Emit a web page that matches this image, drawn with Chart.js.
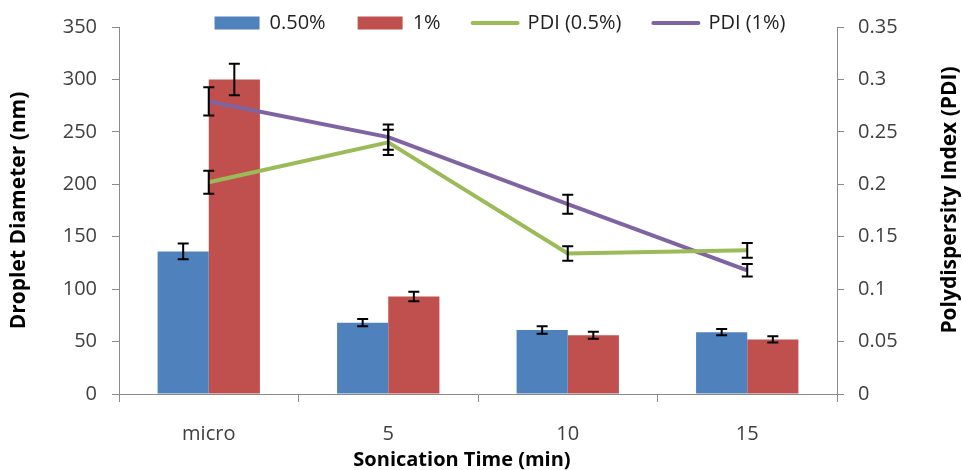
<!DOCTYPE html>
<html>
<head>
<meta charset="utf-8">
<script src="https://cdn.jsdelivr.net/npm/chart.js@4.4.1/dist/chart.umd.min.js"></script>
<style>
    html, body { margin: 0; padding: 0; background: #fff; }
    #wrap { width: 962px; height: 470px; }
</style>
</head>
<body>
<div id="wrap"><canvas id="chart" width="962" height="470"></canvas></div>
<script>
// Droplet size (bars, left axis) and PDI (lines, right axis) vs sonication time
const categories = ['micro', '5', '10', '15'];
const size05 = [136, 68, 61, 59];
const size05Err = [7.5, 3.5, 3.5, 3];
const size1 = [300, 93, 56, 52];
const size1Err = [15, 4.5, 3.3, 3];
const pdi05 = [0.202, 0.240, 0.134, 0.137];
const pdi05Err = [0.011, 0.012, 0.007, 0.007];
const pdi1 = [0.279, 0.245, 0.181, 0.118];
const pdi1Err = [0.0135, 0.012, 0.009, 0.006];
const leftTicks = { min: 0, max: 350, step: 50 };
const rightTicks = { min: 0, max: 0.35, step: 0.05 };

const BLUE = '#4f81bd', RED = '#c0504d', GREEN = '#9bbb59', PURPLE = '#8064a2';
const AXIS = '#8a8a8a', TEXT = '#404040';

Chart.defaults.font.family = "'Open Sans', sans-serif";
Chart.defaults.color = TEXT;

// draws +/- error bars on every dataset that carries an errors array
const errorBars = {
    id: 'errorBars',
    afterDatasetsDraw(chart) {
        const ctx = chart.ctx;
        ctx.save();
        ctx.strokeStyle = '#000';
        ctx.lineWidth = 2;
        chart.data.datasets.forEach((ds, di) => {
            if (!ds.errors) return;
            const meta = chart.getDatasetMeta(di);
            const scale = chart.scales[meta.yAxisID];
            ds.errors.forEach((e, i) => {
                const x = meta.data[i].x;
                const y1 = scale.getPixelForValue(ds.data[i] + e);
                const y2 = scale.getPixelForValue(ds.data[i] - e);
                ctx.beginPath();
                ctx.moveTo(x, y1); ctx.lineTo(x, y2);
                ctx.moveTo(x - 5.5, y1); ctx.lineTo(x + 5.5, y1);
                ctx.moveTo(x - 5.5, y2); ctx.lineTo(x + 5.5, y2);
                ctx.stroke();
            });
        });
        ctx.restore();
    }
};

// legend sits inside the plot top, a bit right of centre
const legendPlace = {
    id: 'legendPlace',
    beforeDraw(chart) {
        const lg = chart.legend;
        if (!lg) return;
        lg.top = -19;
        lg.bottom = 45;
        lg.left = 19;
        lg.right = 981;
    }
};

// x title sits left of centre, right title reads bottom-to-top
const axisTitles = {
    id: 'axisTitles',
    afterDraw(chart) {
        const ctx = chart.ctx;
        ctx.save();
        ctx.font = "bold 20px 'Open Sans'";
        ctx.fillStyle = '#000';
        ctx.textAlign = 'center';
        ctx.textBaseline = 'middle';
        ctx.fillText('Sonication Time (min)', 462, 460);
        ctx.translate(950, 200);
        ctx.rotate(-Math.PI / 2);
        ctx.font = "bold 21px 'Open Sans'";
        ctx.fillText('Polydispersity Index (PDI)', 0, 0);
        ctx.restore();
    }
};

new Chart(document.getElementById('chart'), {
    data: {
        labels: categories,
        datasets: [
            { type: 'bar', label: '0.50%', data: size05, errors: size05Err, backgroundColor: BLUE, yAxisID: 'y', order: 1,
              categoryPercentage: 0.57, barPercentage: 1 },
            { type: 'bar', label: '1%', data: size1, errors: size1Err, backgroundColor: RED, yAxisID: 'y', order: 1,
              categoryPercentage: 0.57, barPercentage: 1 },
            { type: 'line', label: 'PDI (0.5%)', data: pdi05, errors: pdi05Err, borderColor: GREEN, backgroundColor: GREEN,
              borderWidth: 4, pointRadius: 0, tension: 0, yAxisID: 'y2', order: 0 },
            { type: 'line', label: 'PDI (1%)', data: pdi1, errors: pdi1Err, borderColor: PURPLE, backgroundColor: PURPLE,
              borderWidth: 4, pointRadius: 0, tension: 0, yAxisID: 'y2', order: 0 }
        ]
    },
    options: {
        responsive: false,
        animation: false,
        devicePixelRatio: 1,
        layout: { padding: { top: 23, left: 0, right: 0, bottom: 0 } },
        plugins: {
            tooltip: { enabled: false },
            legend: {
                position: 'top',
                align: 'center',
                maxHeight: 1,
                labels: {
                    font: { size: 20 },
                    color: '#222',
                    padding: 32,
                    usePointStyle: true,
                    pointStyleWidth: 45,
                    boxHeight: 13,
                    generateLabels(chart) {
                        return chart.data.datasets.map((ds, i) => ({
                            text: ds.label,
                            datasetIndex: i,
                            fillStyle: ds.type === 'bar' ? ds.backgroundColor : 'rgba(0,0,0,0)',
                            strokeStyle: ds.type === 'bar' ? ds.backgroundColor : ds.borderColor,
                            lineWidth: ds.type === 'bar' ? 0 : 4,
                            lineCap: 'round',
                            pointStyle: ds.type === 'bar' ? 'rect' : 'line',
                            fontColor: '#222',
                            hidden: false
                        }));
                    }
                }
            }
        },
        scales: {
            x: {
                offset: true,
                afterFit(scale) { scale.height = 76; },
                grid: { display: true, drawOnChartArea: false, drawTicks: true, tickLength: 8, color: AXIS, offset: true },
                border: { color: AXIS, width: 1 },
                ticks: { font: { size: 20 }, padding: 20, color: TEXT }
            },
            y: {
                position: 'left',
                min: leftTicks.min, max: leftTicks.max,
                afterFit(scale) { scale.width = 119; },
                grid: { display: true, drawOnChartArea: false, drawTicks: true, tickLength: 7, color: AXIS },
                border: { color: AXIS, width: 1 },
                ticks: { stepSize: leftTicks.step, font: { size: 20 }, padding: 15, color: TEXT },
                title: { display: true, text: 'Droplet Diameter (nm)', color: '#000',
                         font: { size: 21, weight: 'bold', lineHeight: 1 }, padding: { top: 9, bottom: 0 } }
            },
            y2: {
                position: 'right',
                min: rightTicks.min, max: rightTicks.max,
                afterFit(scale) { scale.width = 125; },
                grid: { display: true, drawOnChartArea: false, drawTicks: true, tickLength: 7, color: AXIS },
                border: { color: AXIS, width: 1 },
                ticks: { stepSize: rightTicks.step, font: { size: 20 }, padding: 14, color: TEXT,
                         callback: v => String(+v.toFixed(2)) }
            }
        }
    },
    plugins: [errorBars, legendPlace, axisTitles]
});
</script>
</body>
</html>
